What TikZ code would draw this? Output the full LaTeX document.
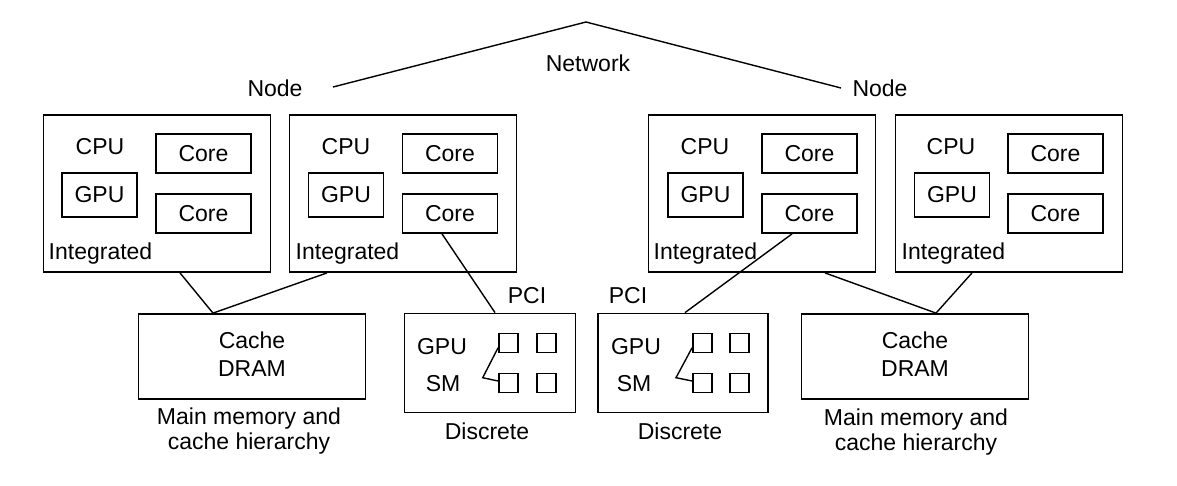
\documentclass[tikz,border=0pt]{standalone}
\usepackage{fontspec}
\setmainfont{Liberation Sans}
\begin{document}
\begin{tikzpicture}[x=1pt,y=-1pt,
  every node/.style={font=\fontsize{23}{27.5}\selectfont},
  box/.style={draw, line width=1.8pt, inner sep=0pt},
  intbox/.style={box, minimum width=227pt, minimum height=157pt},
  corebox/.style={box, minimum width=95pt, minimum height=39pt},
  gpubox/.style={box, minimum width=75pt, minimum height=44pt},
  membox/.style={box, minimum width=227pt, minimum height=85pt, align=center},
  discbox/.style={box, minimum width=171pt, minimum height=99pt},
  sm/.style={box, minimum size=19pt},
  lbl/.style={inner sep=0pt, anchor=base},
  lblw/.style={inner sep=0pt, anchor=base west},
  memlbl/.style={inner sep=0pt, align=center, font=\fontsize{23}{25}\selectfont},
  wire/.style={line width=1.4pt}]
\useasboundingbox (0,0) rectangle (1177,485);

% Network
\coordinate (peak) at (586,22);
\coordinate (netL) at (333,87);
\coordinate (netR) at (841,88);
\draw[wire] (netL) -- (peak) -- (netR);
\node[lbl] (network) at (588,71) {Network};
\node[lbl] (nodeL) at (275,96) {Node};
\node[lbl] (nodeR) at (880,96) {Node};

% Integrated boxes
\node[intbox] (int1) at (157,193.5) {};
\node[intbox] (int2) at (403,193.5) {};
\node[intbox] (int3) at (762,193.5) {};
\node[intbox] (int4) at (1009,193.5) {};

\node[corebox] (core1a) at (203.5,153.5) {Core};
\node[corebox] (core1b) at (203.5,213.5) {Core};
\node[corebox] (core2a) at (450,153.5) {Core};
\node[corebox] (core2b) at (450,213.5) {Core};
\node[corebox] (core3a) at (809.5,153.5) {Core};
\node[corebox] (core3b) at (809.5,213.5) {Core};
\node[corebox] (core4a) at (1055.5,153.5) {Core};
\node[corebox] (core4b) at (1055.5,213.5) {Core};

\node[gpubox] (gpu1) at (99.5,195) {GPU};
\node[gpubox] (gpu2) at (346,195) {GPU};
\node[gpubox] (gpu3) at (705.5,195) {GPU};
\node[gpubox] (gpu4) at (952,195) {GPU};

\node[lbl] (cpu1) at (100,154.5) {CPU};
\node[lbl] (cpu2) at (346,154.5) {CPU};
\node[lbl] (cpu3) at (705,154.5) {CPU};
\node[lbl] (cpu4) at (951,154.5) {CPU};

\node[lblw] (intl1) at (48.5,259.5) {Integrated};
\node[lblw] (intl2) at (295.5,259.5) {Integrated};
\node[lblw] (intl3) at (653.5,259.5) {Integrated};
\node[lblw] (intl4) at (901.5,259.5) {Integrated};

% Memory boxes
\node[membox] (mem1) at (252,356.5) {Cache\\DRAM\rule[-5pt]{0pt}{5pt}};
\node[membox] (mem2) at (915,356.5) {Cache\\DRAM\rule[-5pt]{0pt}{5pt}};
\node[memlbl] (meml1) at (249,431.3) {Main memory and\\cache hierarchy};
\node[memlbl] (meml2) at (916,432.3) {Main memory and\\cache hierarchy};

% Discrete boxes
\node[discbox] (disc1) at (490,363) {};
\node[discbox, minimum width=170pt] (disc2) at (683.3,363) {};
\node[lbl] (pci1) at (527,303) {PCI};
\node[lbl] (pci2) at (628,303) {PCI};
\node[lbl] (dgpu1) at (442,354) {GPU};
\node[lbl] (dsm1) at (443,391) {SM};
\node[lbl] (dgpu2) at (636,354) {GPU};
\node[lbl] (dsm2) at (634,391) {SM};
\node[lbl] (discl1) at (487,439) {Discrete};
\node[lbl] (discl2) at (680,439) {Discrete};

\node[sm] (s1a) at (508.5,343) {};
\node[sm] (s1b) at (546.5,343) {};
\node[sm] (s1c) at (508.5,383) {};
\node[sm] (s1d) at (546.5,383) {};
\node[sm] (s2a) at (702.5,343) {};
\node[sm] (s2b) at (739.7,343) {};
\node[sm] (s2c) at (702.5,383) {};
\node[sm] (s2d) at (739.7,383) {};

\coordinate (k1) at (482.7,377.7);
\coordinate (k2) at (676,377.7);
\draw[wire] ([yshift=-4.7pt]s1a.west) -- (k1) -- ([yshift=2pt]s1c.west);
\draw[wire] ([yshift=-4.7pt]s2a.west) -- (k2) -- ([yshift=2pt]s2c.west);

% Connectors
\draw[wire] ([xshift=23pt]int1.south) -- ([xshift=-39pt]mem1.north);
\draw[wire] ([xshift=-76pt]int2.south) -- ([xshift=-39pt]mem1.north);
\draw[wire] ([xshift=-8pt]core2b.south) -- ([xshift=5pt]disc1.north);
\draw[wire] ([xshift=-17.5pt]core3b.south) -- ([xshift=1.7pt]disc2.north);
\draw[wire] ([xshift=63pt]int3.south) -- ([xshift=21pt]mem2.north);
\draw[wire] ([xshift=-37pt]int4.south) -- ([xshift=21pt]mem2.north);
\end{tikzpicture}
\end{document}
